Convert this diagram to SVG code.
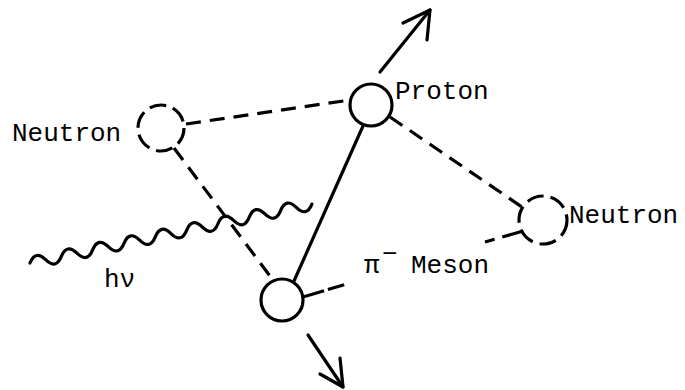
<svg xmlns="http://www.w3.org/2000/svg" width="685" height="390" viewBox="0 0 685 390">
<style>
  .ln { fill: none; stroke: #000; stroke-width: 3.2; stroke-linecap: round; stroke-linejoin: round; }
  .dash { stroke-dasharray: 15 9; stroke-linecap: butt; }
  .dcirc { fill: #fff; stroke: #000; stroke-width: 3.2; stroke-dasharray: 17 7; }
  .scirc { fill: #fff; stroke: #000; stroke-width: 3.2; }
  .lbl { font-family: "Liberation Mono", "DejaVu Sans Mono", monospace; font-size: 26px; fill: #000; }
</style>
<rect width="685" height="390" fill="#fff"/>
<g id="connectors">
  <line class="ln dash" x1="186" y1="124" x2="350" y2="100"/>
  <line class="ln dash" x1="174" y1="148" x2="273" y2="280"/>
  <line class="ln" x1="363" y1="126" x2="294" y2="281"/>
  <line class="ln dash" x1="390" y1="117" x2="522" y2="207"/>
  <line class="ln dash" x1="303" y1="297" x2="350" y2="283" style="stroke-dasharray:22 4 17"/>
  <line class="ln dash" x1="485" y1="242" x2="523" y2="231" style="stroke-dasharray:10 8 20"/>
  <path id="photon" class="ln" transform="translate(30,263) rotate(-11.8)" d="M0,0 q8,-12 16,0 t16,0 t16,0 t16,0 t16,0 t16,0 t16,0 t16,0 t16,0 t16,0 t16,0 t16,0 t16,0 t16,0 t16,0 t16,0 t16,0 t16,0"/>
  <g id="arrow-up">
    <line class="ln" x1="380" y1="72" x2="430" y2="10"/>
    <polyline class="ln" points="403,23 430,10 427,40"/>
  </g>
  <g id="arrow-down">
    <line class="ln" x1="308" y1="335" x2="343" y2="387"/>
    <polyline class="ln" points="340,358 343,387 320,374"/>
  </g>
</g>
<g id="neutron-left">
  <circle class="dcirc" cx="161" cy="128" r="23"/>
  <text class="lbl" x="12" y="141">Neutron</text>
</g>
<g id="proton">
  <circle class="scirc" cx="371" cy="105" r="21"/>
  <text class="lbl" x="395" y="99">Proton</text>
</g>
<g id="neutron-right">
  <circle class="dcirc" cx="543" cy="220" r="24"/>
  <text class="lbl" x="569" y="223">Neutron</text>
</g>
<g id="meson">
  <circle class="scirc" cx="282" cy="300" r="21"/>
  <text class="lbl" x="364" y="273">π<tspan x="382" y="262">−</tspan><tspan x="411" y="273">Meson</tspan></text>
</g>
<g id="photon-label">
  <text class="lbl" x="104" y="287">hν</text>
</g>
</svg>
